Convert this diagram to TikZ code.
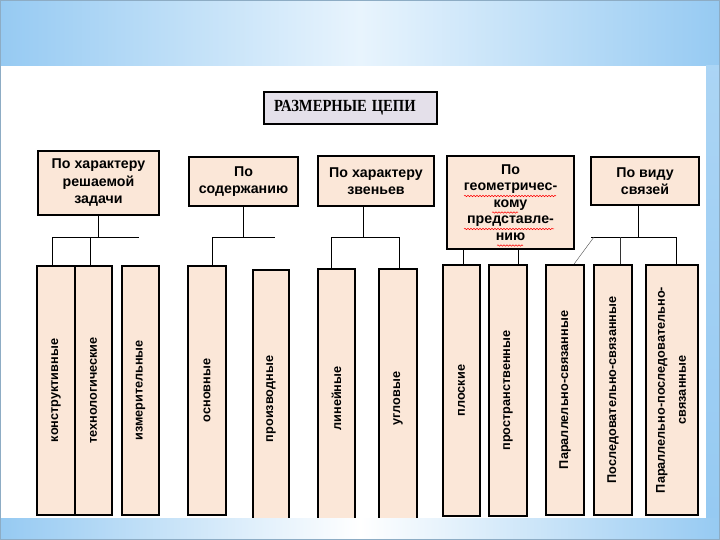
\documentclass[tikz,border=0pt]{standalone}
\usepackage{fontspec}
\setmainfont{Liberation Sans}
\newfontfamily\headfont{Liberation Serif}
\usetikzlibrary{positioning,decorations.pathmorphing}
\definecolor{peach}{RGB}{251,231,216}
\definecolor{lavender}{RGB}{228,224,234}
\definecolor{skyedge}{RGB}{150,202,242}
\definecolor{skypale}{RGB}{232,244,253}

\begin{document}
\begin{tikzpicture}[x=1pt,y=-1pt]
  \useasboundingbox (0,0) rectangle (720,540);
  % slide background
  \fill[white] (0,0) rectangle (720,540);
  \shade[left color=skyedge, right color=skyedge, middle color=skypale] (0,0) rectangle (720,66);
  \shade[top color=skyedge!80, bottom color=skyedge] (706,66) rectangle (720,518);

  \tikzstyle{title}=[draw, line width=1.6pt, fill=lavender, minimum height=32pt, inner xsep=10pt, text width=153pt, align=left, font=\headfont\bfseries\fontsize{17}{19}\selectfont]
  \tikzstyle{group}=[draw, line width=2pt, fill=peach, align=center, inner sep=0pt, font=\bfseries\fontsize{14.2}{17.5}\selectfont]
  \tikzstyle{leaf}=[draw, line width=1.8pt, fill=peach, inner sep=0pt, font=\bfseries\fontsize{12.7}{17}\selectfont]
  \tikzstyle{wavy}=[red, line width=0.5pt, decorate, decoration={snake, amplitude=0.7pt, segment length=3pt}]

  \node[title] (chains) at (350.5,108) {\scalebox{0.86}[1]{РАЗМЕРНЫЕ ЦЕПИ}};

  \node[group, minimum width=121pt, minimum height=64pt] (zadachi) at (98.5,183) {По характеру\\решаемой\\задачи};
  \node[group, minimum width=109pt, minimum height=49pt] (soderzh) at (243.5,181.5) {По\\содержанию};
  \node[group, minimum width=116pt, minimum height=50pt] (zvenev) at (376,181) {По характеру\\звеньев};
  \node[group, minimum width=127pt, minimum height=93pt, font=\bfseries\fontsize{14.2}{16.5}\selectfont] (geom) at (510.5,202.5) {По\\геометричес-\\кому\\представле-\\нию};
  \node[group, minimum width=108pt, minimum height=48pt] (svyazi) at (645,181) {По виду\\связей};

  % spelling marks
  \draw[wavy] (464,196) -- (556,196);
  \draw[wavy] (492,212.5) -- (518,212.5);
  \draw[wavy] (464,229) -- (554,229);
  \draw[wavy] (497,245.5) -- (523,245.5);

  \node[leaf, minimum width=38pt, minimum height=249pt] (konstr) at (56,390.5) {\rotatebox{90}{конструктивные}};
  \node[leaf, minimum width=37pt, minimum height=249pt] (tehnol) at (93.5,390.5) {\rotatebox{90}{технологические}};
  \node[leaf, minimum width=37pt, minimum height=249pt] (izmer) at (140.5,390.5) {\rotatebox{90}{измерительные}};
  \node[leaf, minimum width=38pt, minimum height=249pt] (osnov) at (207,390.5) {\rotatebox{90}{основные}};
  \node[leaf, minimum width=36pt, minimum height=258pt] (proizv) at (271,399) {\rotatebox{90}{производные}};
  \node[leaf, minimum width=37pt, minimum height=259pt] (linein) at (336.5,398.5) {\rotatebox{90}{линейные}};
  \node[leaf, minimum width=38pt, minimum height=259pt] (uglov) at (398,398.5) {\rotatebox{90}{угловые}};
  \node[leaf, minimum width=37pt, minimum height=251pt] (plosk) at (461.5,390.5) {\rotatebox{90}{плоские}};
  \node[leaf, minimum width=38pt, minimum height=251pt] (prostr) at (508,390.5) {\rotatebox{90}{пространственные}};
  \node[leaf, minimum width=38pt, minimum height=250pt] (parsv) at (565,390) {\rotatebox{90}{Параллельно-связанные}};
  \node[leaf, minimum width=38pt, minimum height=250pt] (poslsv) at (613,390) {\rotatebox{90}{Последовательно-связанные}};
  \node[leaf, minimum width=52pt, minimum height=250pt] (parposl) at (672,390) {\rotatebox{90}{\begin{tabular}{@{}c@{}}Параллельно-последовательно-\\[4pt]связанные\end{tabular}}};

  % tree lines
  \coordinate (bar1l) at (52,237);
  \coordinate (bar1r) at (139,237);
  \draw (bar1l) -- (bar1r);
  \draw (zadachi.south) -- (zadachi.south |- bar1l);
  \draw (bar1l) -- (bar1l |- konstr.north);
  \draw ([xshift=-3pt]tehnol.north |- bar1l) -- ([xshift=-3pt]tehnol.north);

  \coordinate (bar2l) at (212,237);
  \coordinate (bar2r) at (275,237);
  \draw (bar2l) -- (bar2r);
  \draw (soderzh.south) -- (soderzh.south |- bar2l);
  \draw (bar2l) -- (bar2l |- osnov.north);

  \coordinate (bar3l) at (331,237);
  \coordinate (bar3r) at (399,237);
  \draw (bar3l) -- (bar3r);
  \draw ([xshift=-13pt]zvenev.south) -- ([xshift=-13pt]zvenev.south |- bar3l);
  \draw (bar3l) -- (bar3l |- linein.north);
  \draw (bar3r) -- (bar3r |- uglov.north);

  \draw ([xshift=2pt]plosk.north |- geom.south) -- ([xshift=2pt]plosk.north);
  \draw ([xshift=10pt]prostr.north |- geom.south) -- ([xshift=10pt]prostr.north);

  \coordinate (bar5l) at (591,237);
  \coordinate (bar5r) at (676,237);
  \draw (bar5l) -- (bar5r);
  \draw ([xshift=-7pt]svyazi.south) -- ([xshift=-7pt]svyazi.south |- bar5l);
  \draw[black!70] (594,237) -- ([xshift=9pt]parsv.north);
  \draw[black!80] ([xshift=7pt]poslsv.north |- bar5l) -- ([xshift=7pt]poslsv.north);
  \draw (bar5r) -- (bar5r |- parposl.north);

  % lower band of the slide
  \shade[left color=skyedge, right color=skyedge, middle color=white] (0,518) rectangle (720,540);
  \draw[skyedge!60!gray] (0.5,0.5) rectangle (719.5,539.5);
\end{tikzpicture}
\end{document}
